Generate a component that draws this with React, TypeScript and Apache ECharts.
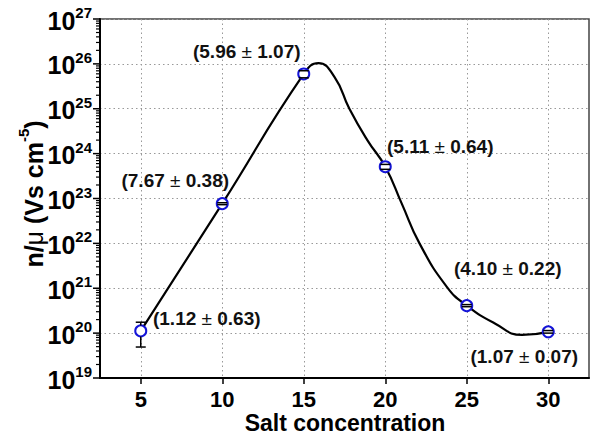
import React, { useEffect, useRef } from 'react';
import * as echarts from 'echarts';

// Measured points
const saltConc = [5, 10, 15, 20, 25, 30];
const mantissa = [1.12, 7.67, 5.96, 5.11, 4.1, 1.07];
const errMantissa = [0.63, 0.38, 1.07, 0.64, 0.22, 0.07];
const exponent = [20, 22, 25, 23, 20, 20];

// Curve (spline through the points)
const fitX = [5, 10, 15, 15.9, 16.9, 17.8, 18.9, 20, 21, 22.1, 23.8, 25, 26.7, 28.4, 30];
const fitY = [1.12e20, 7.67e22, 5.96e25, 1.04e26, 5.0e25, 1.0e25, 2.0e24, 5.11e23, 7.9e22, 1.0e22, 1.05e21, 4.1e20, 1.66e20, 9.1e19, 1.07e20];

// Axis ticks
const xTicks = [5, 10, 15, 20, 25, 30];
const yDecades = [19, 20, 21, 22, 23, 24, 25, 26, 27];

// label placement (px offsets from each point)
const labelOffsets = [[66, -12], [-47, -23], [-57, -22], [55, -20], [41, -37], [-24, 25]];

const FONT = '"Liberation Sans", Arial, Helvetica, sans-serif';

export default function App() {
  const ref = useRef<HTMLDivElement>(null);
  useEffect(() => {
    if (!ref.current) return;
    const chart = echarts.init(ref.current, null, { renderer: 'svg' });
    const values = saltConc.map((x, i) => mantissa[i] * Math.pow(10, exponent[i]));
    const errs = saltConc.map((x, i) => errMantissa[i] * Math.pow(10, exponent[i]));
    const minorTicks: number[][] = [];
    for (let d = 19; d < 27; d++) {
      for (let k = 2; k <= 9; k++) minorTicks.push([2.5, k * Math.pow(10, d)]);
    }
    const majorTicks = yDecades.map((d) => [2.5, Math.pow(10, d)]);

    chart.setOption({
      animation: false,
      backgroundColor: '#fff',
      grid: {
        left: 100, top: 19, right: 3, bottom: 61,
        show: true, borderColor: '#444', borderWidth: 1.5,
      },
      xAxis: {
        type: 'value', min: 2.5, max: 32.5, splitNumber: 6,
        axisLine: { lineStyle: { color: '#000', width: 2 } },
        axisTick: { show: true, length: 6, lineStyle: { color: '#000', width: 1.5 },
          customValues: xTicks },
        axisLabel: {
          customValues: xTicks,
          color: '#000', fontFamily: FONT, fontWeight: 'bold', fontSize: 22, margin: 10,
          formatter: (v: number) => (xTicks.indexOf(v) >= 0 ? String(v) : ''),
        },
        splitLine: { show: true, lineStyle: { color: '#999', width: 1, type: [1.5, 3] } },
      },
      yAxis: {
        type: 'log', logBase: 10, min: 1e19, max: 1e27, splitNumber: 8,
        axisLine: { show: true, lineStyle: { color: '#000', width: 2 } },
        axisTick: { show: false },
        axisLabel: {
          margin: 8, color: '#000', fontFamily: FONT,
          formatter: (v: number) => '{b|10}{s|' + Math.round(Math.log10(v)) + '}',
          rich: {
            b: { fontSize: 25, fontWeight: 'bold', fontFamily: FONT, color: '#000', verticalAlign: 'bottom', lineHeight: 28 },
            s: { fontSize: 15, fontWeight: 'bold', fontFamily: FONT, color: '#000', verticalAlign: 'top', lineHeight: 28 },
          },
        },
        splitLine: { show: true, lineStyle: { color: '#999', width: 1, type: [1.5, 3] } },
      },
      graphic: [
        {
          type: 'text', x: 345, y: 423,
          style: { text: 'Salt concentration', font: 'bold 23px ' + FONT, fill: '#000', textAlign: 'center', textVerticalAlign: 'middle' },
        },
        {
          type: 'text', x: 31, y: 194, rotation: Math.PI / 2,
          style: {
            text: '{a|n/}{m|μ}{a| (Vs cm}{s|-5}{a|)}',
            textAlign: 'center', textVerticalAlign: 'middle', fill: '#000',
            rich: {
              a: { fontSize: 25, fontWeight: 'bold', fontFamily: FONT, fill: '#000', verticalAlign: 'bottom', lineHeight: 30 },
              m: { fontSize: 25, fontWeight: 'normal', fontFamily: FONT, fill: '#000', verticalAlign: 'bottom', lineHeight: 30 },
              s: { fontSize: 15, fontWeight: 'bold', fontFamily: FONT, fill: '#000', verticalAlign: 'top', lineHeight: 30 },
            },
          },
        },
      ],
      series: [
        {
          type: 'line', name: 'fit', data: fitX.map((x, i) => [x, fitY[i]]),
          smooth: 0.5, showSymbol: false, symbol: 'none', z: 2,
          lineStyle: { color: '#000', width: 2.2 },
        },
        {
          type: 'scatter', name: 'data', z: 3,
          data: saltConc.map((x, i) => ({
            value: [x, values[i]],
            label: { offset: labelOffsets[i] },
          })),
          symbol: 'circle', symbolSize: 11,
          itemStyle: { color: '#fff', borderColor: '#1414d8', borderWidth: 2, opacity: 1 },
          label: {
            show: true, position: 'inside',
            formatter: (p: any) => {
              const i = p.dataIndex;
              return '{t|(' + mantissa[i].toFixed(2) + ' }{p|±}{t| ' + errMantissa[i].toFixed(2) + ')}';
            },
            rich: {
              t: { fontSize: 19, fontWeight: 'bold', fontFamily: FONT, color: '#111' },
              p: { fontSize: 19, fontWeight: 'normal', fontFamily: FONT, color: '#111' },
            },
          },
        },
        {
          type: 'custom', name: 'err', z: 4, clip: false,
          data: saltConc.map((x, i) => [x, values[i] - errs[i], values[i] + errs[i], values[i]]),
          encode: { x: 0, y: [1, 2, 3] },
          renderItem: (params: any, api: any) => {
            const x = api.value(0);
            const lo = api.coord([x, api.value(1)]);
            const hi = api.coord([x, api.value(2)]);
            const c = api.coord([x, api.value(3)]);
            const r = 5.5, hw = 5;
            const st = { stroke: '#000', lineWidth: 1.5 };
            const ch: any[] = [
              { type: 'line', shape: { x1: hi[0] - hw, y1: hi[1], x2: hi[0] + hw, y2: hi[1] }, style: st },
              { type: 'line', shape: { x1: lo[0] - hw, y1: lo[1], x2: lo[0] + hw, y2: lo[1] }, style: st },
            ];
            if (hi[1] < c[1] - r) ch.push({ type: 'line', shape: { x1: c[0], y1: hi[1], x2: c[0], y2: c[1] - r }, style: st });
            if (lo[1] > c[1] + r) ch.push({ type: 'line', shape: { x1: c[0], y1: c[1] + r, x2: c[0], y2: lo[1] }, style: st });
            return { type: 'group', children: ch };
          },
        },
        {
          type: 'custom', name: 'yMinorTicks', z: 5, clip: false, silent: true,
          data: minorTicks,
          renderItem: (params: any, api: any) => {
            const p = api.coord([api.value(0), api.value(1)]);
            return { type: 'line', shape: { x1: p[0] - 4, y1: p[1], x2: p[0], y2: p[1] }, style: { stroke: '#000', lineWidth: 1.2 } };
          },
        },
        {
          type: 'custom', name: 'yMajorTicks', z: 5, clip: false, silent: true,
          data: majorTicks,
          renderItem: (params: any, api: any) => {
            const p = api.coord([api.value(0), api.value(1)]);
            return { type: 'line', shape: { x1: p[0] - 7, y1: p[1], x2: p[0], y2: p[1] }, style: { stroke: '#000', lineWidth: 1.5 } };
          },
        },
      ],
    });
    return () => chart.dispose();
  }, []);
  return <div ref={ref} style={{ position: 'fixed', left: 0, top: 0, width: 592, height: 439 }} />;
}
